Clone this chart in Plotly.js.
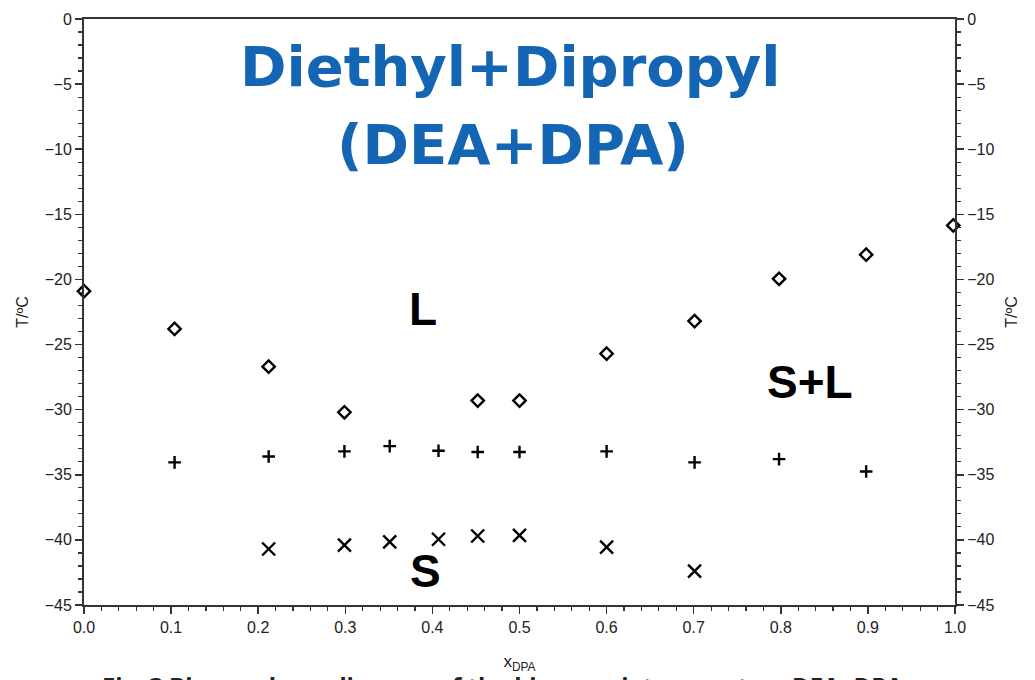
<!DOCTYPE html>
<html>
<head>
<meta charset="utf-8">
<script src="https://cdn.plot.ly/plotly-3.0.1.min.js"></script>
<style>html,body{margin:0;padding:0;background:#fff;}#chart{width:1035px;height:680px;}</style>
</head>
<body>
<div id="chart"></div>
<script>
// Liquidus (open diamonds)
const xLiquidus = [0.000, 0.104, 0.212, 0.299, 0.452, 0.500, 0.600, 0.701, 0.798, 0.898, 0.998];
const tLiquidus = [-20.9, -23.8, -26.7, -30.2, -29.3, -29.3, -25.7, -23.2, -19.95, -18.1, -15.85];
// Solid-solid transition (+)
const xPlus = [0.104, 0.212, 0.299, 0.351, 0.407, 0.452, 0.500, 0.600, 0.701, 0.798, 0.898];
const tPlus = [-34.05, -33.6, -33.2, -32.8, -33.15, -33.25, -33.25, -33.2, -34.05, -33.8, -34.75];
// Solidus (x)
const xCross = [0.212, 0.299, 0.351, 0.407, 0.452, 0.500, 0.600, 0.701];
const tCross = [-40.7, -40.4, -40.15, -39.95, -39.7, -39.65, -40.55, -42.4];

const xTickVals = [0, 0.1, 0.2, 0.3, 0.4, 0.5, 0.6, 0.7, 0.8, 0.9, 1.0];
const xTickText = ['0.0','0.1','0.2','0.3','0.4','0.5','0.6','0.7','0.8','0.9','1.0'];
const yTickVals = [0, -5, -10, -15, -20, -25, -30, -35, -40, -45];

const titleLines = ['Diethyl+Dipropyl', '(DEA+DPA)'];
const regionLabels = ['L', 'S+L', 'S'];
const xTitle = 'x<sub>DPA</sub>';
const yTitle = 'T/ºC';
const caption = 'Fig. 3 Binary phase diagram of the binary mixture system DEA+DPA';

const mk = (sym, size, w) => ({symbol: sym, size: size, color: '#000', line: {color: '#000', width: w}});

const traces = [
  {x: xLiquidus, y: tLiquidus, type: 'scatter', mode: 'markers', marker: mk('diamond-open', 9.5, 2.4), cliponaxis: false},
  {x: xPlus, y: tPlus, type: 'scatter', mode: 'markers', marker: mk('cross-thin-open', 9, 2.4), cliponaxis: false},
  {x: xCross, y: tCross, type: 'scatter', mode: 'markers', marker: mk('x-thin-open', 13, 2.4), cliponaxis: false},
  {x: [], y: [], type: 'scatter', mode: 'markers', yaxis: 'y2', hoverinfo: 'skip'}
];

const tickFont = {family: 'Liberation Sans, Arial, sans-serif', size: 16, color: '#222'};
const axisCol = '#333';

const layout = {
  width: 1035, height: 680,
  paper_bgcolor: '#fff', plot_bgcolor: '#fff',
  margin: {l: 84, r: 80, t: 19, b: 75},
  showlegend: false,
  font: {family: 'Liberation Sans, Arial, sans-serif', color: '#222'},
  xaxis: {
    range: [0, 1], tickvals: xTickVals, ticktext: xTickText,
    ticks: 'outside', ticklen: 7, tickwidth: 1.5, tickcolor: axisCol,
    minor: {dtick: 0.02, ticks: 'outside', ticklen: 4, tickwidth: 1.2, tickcolor: axisCol, showgrid: false},
    showline: true, linecolor: axisCol, linewidth: 2, mirror: true,
    showgrid: false, zeroline: false, tickfont: tickFont,
    title: {text: xTitle, font: {size: 17, color: '#222'}, standoff: 20}
  },
  yaxis: {
    range: [-45, 0], tickvals: yTickVals,
    ticks: 'outside', ticklen: 7, tickwidth: 1.5, tickcolor: axisCol,
    minor: {dtick: 1, ticks: 'outside', ticklen: 4, tickwidth: 1.2, tickcolor: axisCol, showgrid: false},
    showline: true, linecolor: axisCol, linewidth: 2,
    showgrid: false, zeroline: false, tickfont: tickFont,
    title: {text: yTitle, font: {size: 16, color: '#222'}, standoff: 12}
  },
  yaxis2: {
    overlaying: 'y', side: 'right', range: [-45, 0], tickvals: yTickVals,
    ticks: 'outside', ticklen: 7, tickwidth: 1.5, tickcolor: axisCol,
    minor: {dtick: 1, ticks: 'outside', ticklen: 4, tickwidth: 1.2, tickcolor: axisCol, showgrid: false},
    showline: true, linecolor: axisCol, linewidth: 2,
    showgrid: false, zeroline: false, tickfont: tickFont,
    title: {text: yTitle, font: {size: 16, color: '#222'}, standoff: 12}
  },
  shapes: [
    {type: 'rect', xref: 'paper', yref: 'paper', x0: -0.2, x1: 1.2, y0: 1.0324, y1: 1.04, fillcolor: '#3b8fe0', line: {width: 0}, layer: 'above'}
  ],
  annotations: [
    {xref: 'paper', yref: 'paper', x: 0.49, y: 0.9185, text: titleLines[0], showarrow: false, xanchor: 'center', yanchor: 'middle',
     font: {family: 'DejaVu Sans, sans-serif', size: 56, color: '#1466b4', weight: 700}},
    {xref: 'paper', yref: 'paper', x: 0.493, y: 0.785, text: titleLines[1], showarrow: false, xanchor: 'center', yanchor: 'middle',
     font: {family: 'DejaVu Sans, sans-serif', size: 56, color: '#1466b4', weight: 700}},
    {xref: 'x', yref: 'y', x: 0.389, y: -22.25, text: regionLabels[0], showarrow: false,
     font: {family: 'Liberation Sans, Arial, sans-serif', size: 46, color: '#000', weight: 700}},
    {xref: 'x', yref: 'y', x: 0.8335, y: -27.85, text: regionLabels[1], showarrow: false,
     font: {family: 'Liberation Sans, Arial, sans-serif', size: 46, color: '#000', weight: 700}},
    {xref: 'x', yref: 'y', x: 0.392, y: -42.4, text: regionLabels[2], showarrow: false,
     font: {family: 'Liberation Sans, Arial, sans-serif', size: 46, color: '#000', weight: 700}},
    {xref: 'paper', yref: 'paper', x: 0.018, y: -0.138, text: caption, showarrow: false, xanchor: 'left', yanchor: 'middle',
     font: {family: 'Open Sans, sans-serif', size: 24, color: '#222', weight: 700}}
  ]
};

Plotly.newPlot('chart', traces, layout, {staticPlot: true, displayModeBar: false});
</script>
</body>
</html>
